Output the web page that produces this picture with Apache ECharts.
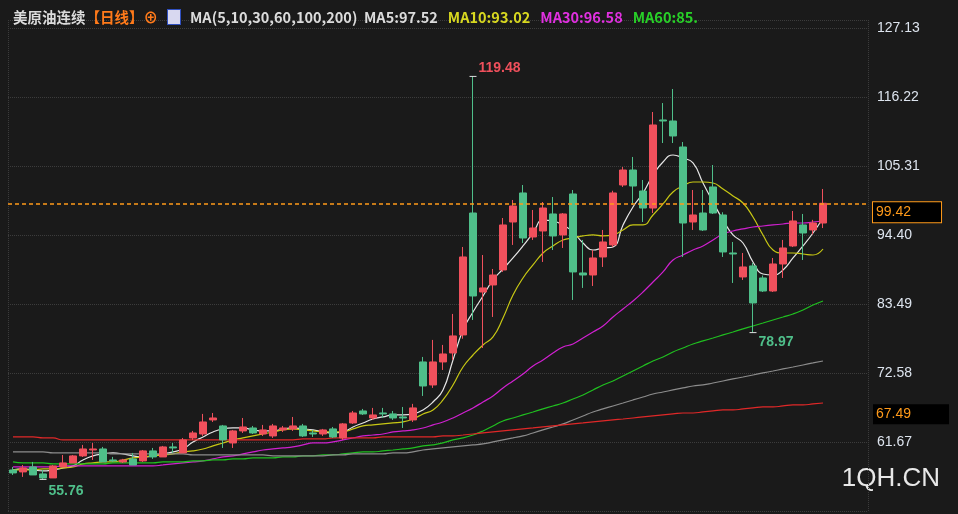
<!DOCTYPE html>
<html>
<head>
<meta charset="utf-8">
<script src="https://cdn.jsdelivr.net/npm/echarts@6/dist/echarts.min.js"></script>
<style>
html, body { margin: 0; padding: 0; background: #1a1a1a; }
#main { width: 958px; height: 514px; }
</style>
</head>
<body>
<div id="main"></div>
<script>
// [open, close, low, high]
var candles = [
    [57.25,56.78,56.46,57.73],[56.94,57.57,56.15,58.04],[57.73,56.46,56.46,58.52],[56.62,55.99,55.76,57.25],
    [55.99,57.89,55.99,58.04],[57.73,58.36,57.73,59.62],[58.36,59.47,58.36,59.62],[59.47,60.57,59.31,61.21],
    [60.41,60.57,58.83,61.52],[60.57,58.52,58.52,60.89],[58.83,58.68,58.52,59.31],[58.52,58.83,58.36,59.00],
    [58.99,58.04,58.04,59.94],[58.68,60.26,58.52,60.41],[60.26,59.31,59.00,60.73],[59.31,60.89,59.31,61.05],
    [60.89,60.73,59.94,61.52],[59.94,62.00,59.94,62.31],[62.31,63.10,62.00,63.42],[62.94,64.84,62.63,66.11],
    [65.16,65.47,64.84,66.26],[64.21,62.00,60.73,64.37],[61.52,63.42,60.73,63.58],[63.42,64.05,63.10,65.47],
    [63.89,63.10,62.94,64.21],[62.94,63.58,62.63,64.37],[62.63,64.21,62.31,64.53],[63.58,63.89,63.26,64.21],
    [63.74,64.21,63.42,65.63],[64.21,62.63,62.47,64.53],[63.10,62.94,62.47,63.58],[62.94,63.58,62.63,63.74],
    [63.74,62.47,62.31,64.05],[62.31,64.53,62.00,64.68],[64.68,66.26,64.53,66.58],[66.58,66.11,65.95,66.90],
    [65.47,65.95,65.16,67.06],[66.26,66.11,65.47,67.06],[66.11,65.47,65.16,66.58],[65.63,65.47,63.89,67.21],
    [65.16,67.06,64.84,67.70],[74.33,70.53,68.95,75.12],[70.69,74.33,70.22,77.81],[74.33,75.59,73.06,77.02],
    [75.75,78.44,74.64,81.92],[78.60,90.93,78.00,92.51],[97.88,84.76,80.97,119.48],[85.39,86.03,76.54,91.24],
    [86.50,88.08,81.44,89.03],[88.87,95.99,88.56,97.09],[96.46,98.99,92.83,99.94],[101.05,93.93,93.14,102.31],
    [94.09,95.51,93.62,98.36],[95.04,98.67,90.14,99.62],[97.73,94.25,92.03,100.41],[94.41,97.73,92.35,97.88],
    [100.89,88.56,84.13,101.52],[88.40,88.08,86.03,93.62],[88.08,90.77,86.34,92.03],[90.93,93.30,89.35,95.20],
    [92.83,101.05,92.50,101.40],[102.31,104.68,102.00,105.16],[104.68,102.15,99.15,106.74],[101.36,98.67,96.46,103.10],
    [98.67,111.80,97.88,113.85],[112.59,112.43,108.95,115.27],[112.43,110.06,108.95,117.49],[108.32,96.30,90.93,109.11],
    [96.46,97.57,95.20,101.52],[97.88,95.20,95.04,101.52],[102.00,97.88,97.73,105.47],[97.57,91.72,90.93,98.00],
    [91.56,91.40,86.82,93.30],[87.77,89.35,87.29,91.56],[89.51,83.66,78.97,89.98],[87.61,85.55,85.39,88.00],
    [85.55,89.82,85.39,90.77],[89.82,92.35,87.61,93.62],[92.67,96.62,92.50,98.20],[95.99,94.72,90.45,97.73],
    [95.20,96.30,94.50,96.80],[96.30,99.42,95.50,101.68]
];

var ma5 = [57.25,57.41,57.25,57.09,57.25,57.57,57.89,58.83,59.47,59.78,
    59.94,59.78,59.47,59.31,59.47,59.78,60.10,60.57,61.68,62.47,
    63.26,63.74,63.89,63.89,63.58,63.42,63.42,63.74,63.89,63.74,
    63.58,63.26,63.10,63.26,64.05,64.68,65.31,65.63,65.95,65.95,
    66.11,66.74,68.00,69.90,74.64,79.38,82.23,84.76,87.29,89.03,
    90.77,92.67,94.72,96.77,96.62,95.99,94.88,93.14,92.03,92.35,
    92.51,95.99,98.83,101.05,103.89,105.95,107.05,106.58,105.79,102.62,
    99.62,96.77,94.41,93.14,90.14,88.24,88.08,88.87,90.77,92.67,
    94.72,97.09];
var ma10 = [57.25,57.25,57.25,57.41,57.41,57.57,57.73,58.20,58.36,58.52,
    58.52,58.83,59.15,59.31,59.47,59.62,59.78,60.10,60.26,60.57,
    61.05,61.52,62.00,62.31,62.63,62.94,63.26,63.58,63.74,63.58,
    63.42,63.26,63.26,63.26,63.74,64.21,64.37,64.53,64.68,64.84,
    65.31,66.11,66.74,68.32,70.69,73.53,75.43,77.02,78.28,81.28,
    84.92,87.61,89.66,91.56,92.67,93.62,93.93,94.25,94.41,94.25,
    94.41,95.20,95.99,95.99,97.57,99.31,101.21,102.15,102.78,102.78,
    102.62,101.68,100.57,99.46,97.25,94.41,92.03,91.56,91.56,91.40,
    91.24,92.19];
var ma30 = [57.73,57.73,57.73,57.73,57.73,57.89,57.89,57.89,57.89,57.89,
    57.89,57.89,57.89,57.89,57.89,58.04,58.20,58.36,58.52,58.68,
    58.99,59.31,59.47,59.78,60.10,60.41,60.57,60.73,60.89,61.21,
    61.52,61.52,61.68,62.00,62.31,62.63,62.78,62.94,63.26,63.42,
    63.58,63.89,64.37,64.84,65.47,66.26,67.06,68.00,68.95,70.22,
    71.32,72.43,73.69,74.64,75.75,76.70,77.17,78.12,79.07,80.02,
    81.44,82.71,83.97,85.39,86.97,88.56,90.45,91.24,92.03,92.67,
    93.62,94.56,95.04,95.36,95.67,95.83,95.99,96.14,96.30,96.30,
    96.46,96.62];
var ma60 = [58.52,58.36,58.36,58.36,58.20,58.20,58.20,58.20,58.20,58.20,
    58.36,58.36,58.36,58.36,58.36,58.52,58.52,58.52,58.68,58.68,
    58.83,58.83,58.99,58.99,59.15,59.15,59.15,59.31,59.31,59.47,
    59.47,59.62,59.62,59.78,59.94,60.10,60.10,60.26,60.41,60.57,
    60.73,61.05,61.21,61.52,62.00,62.31,62.78,63.42,64.21,65.00,
    65.47,65.95,66.42,66.90,67.37,67.84,68.47,69.11,69.90,70.69,
    71.32,72.11,72.90,73.69,74.48,75.12,75.91,76.54,77.17,77.65,
    78.12,78.60,79.07,79.55,80.02,80.49,80.97,81.44,81.92,82.55,
    83.34,83.97];
var ma100 = [60.10,60.10,60.10,60.10,59.94,59.94,59.94,59.94,59.94,59.94,
    59.78,59.78,59.78,59.78,59.78,59.78,59.78,59.78,59.62,59.62,
    59.62,59.62,59.62,59.62,59.62,59.62,59.47,59.47,59.47,59.47,
    59.47,59.47,59.62,59.62,59.78,59.78,59.78,59.78,59.94,59.94,
    60.10,60.41,60.57,60.73,60.89,61.05,61.21,61.36,61.68,62.00,
    62.31,62.63,63.10,63.58,64.05,64.53,65.16,65.79,66.42,66.90,
    67.37,67.84,68.32,68.79,69.26,69.58,69.90,70.22,70.53,70.69,
    71.00,71.32,71.64,71.95,72.27,72.59,72.90,73.22,73.53,73.85,
    74.17,74.48];
var ma200 = [62.47,62.47,62.47,62.31,62.31,62.00,62.00,62.00,62.00,62.00,
    62.00,62.00,62.00,62.00,62.00,62.00,62.00,62.00,62.00,62.00,
    62.00,62.00,62.00,62.00,62.00,62.00,62.00,62.00,62.00,62.15,
    62.15,62.15,62.31,62.31,62.31,62.31,62.31,62.47,62.47,62.47,
    62.47,62.47,62.47,62.63,62.63,62.78,62.94,63.10,63.26,63.42,
    63.58,63.74,63.89,64.05,64.21,64.37,64.53,64.68,64.84,65.00,
    65.16,65.31,65.47,65.63,65.79,65.95,66.11,66.26,66.26,66.42,
    66.58,66.74,66.74,66.90,67.06,67.21,67.21,67.37,67.53,67.53,
    67.69,67.84];

var extremes = [
    { idx: 46, value: 119.48, color: '#f0505c', dy: -8 },
    { idx: 74, value: 78.97, color: '#4fbf8a', dy: 10 },
    { idx: 3, value: 55.76, color: '#4fbf8a', dy: 12 }
];
var yTickStart = 50.76, yTickStep = 10.91;
var lastPrice = 99.42, ma200Last = 67.49;

var categories = [];
for (var i = 0; i < 86; i++) categories.push(i < candles.length ? 'D' + i : '');

var boxLabel = {
    position: 'end', distance: 5, fontSize: 14, color: '#ff9a1a',
    fontFamily: 'Liberation Sans', backgroundColor: '#000', offset: [0, 9]
};

function lineSeries(name, data, color, mark) {
    var s = {
        name: name, type: 'line', data: data, symbol: 'none', smooth: true,
        lineStyle: { width: 1.2, color: color }, z: 3, silent: true
    };
    if (mark) {
        s.markLine = {
            symbol: 'none', silent: true,
            lineStyle: { color: mark.lineColor, type: [4, 3], width: mark.lineWidth },
            label: Object.assign({}, boxLabel, mark.label, { formatter: mark.value.toFixed(2) }),
            data: [{ yAxis: mark.value }]
        };
    }
    return s;
}

var myChart = echarts.init(document.getElementById('main'));
var option = {
    backgroundColor: '#1a1a1a',
    animation: false,
    title: {
        left: 8, top: 3,
        text: '{a|美原油连续}{b|【日线】⊕}  {i| }  {a|MA(5,10,30,60,100,200)  MA5:97.52}  {y|MA10:93.02}  {m|MA30:96.58}  {g|MA60:85.}',
        textStyle: {
            rich: {
                a: { color: '#dcdcdc', fontSize: 14.5, fontFamily: 'Noto Sans CJK SC' },
                b: { color: '#ff7a1a', fontSize: 14.5, fontFamily: 'Noto Sans CJK SC' },
                i: { width: 12, height: 14, backgroundColor: '#d8d8f0', borderColor: '#3050c0', borderWidth: 1 },
                y: { color: '#d8d820', fontSize: 14.5, fontFamily: 'Noto Sans CJK SC' },
                m: { color: '#e030e0', fontSize: 14.5, fontFamily: 'Noto Sans CJK SC' },
                g: { color: '#28d028', fontSize: 14.5, fontFamily: 'Noto Sans CJK SC' }
            }
        }
    },
    graphic: [{
        type: 'text', right: 18, bottom: 22,
        style: { text: '1QH.CN', fill: '#e8e8e8', font: '26px "Liberation Sans"' }
    }],
    grid: { left: 8, right: 90, top: 20, bottom: 3 },
    xAxis: {
        type: 'category', data: categories, boundaryGap: true,
        axisLine: { show: false }, axisTick: { show: false }, axisLabel: { show: false },
        splitLine: {
            show: true,
            interval: function (idx) { return idx === 41; },
            lineStyle: { color: '#3c3c3c', type: 'dotted' }
        }
    },
    yAxis: {
        type: 'value', position: 'right', scale: true,
        min: yTickStart, max: 128.4, interval: yTickStep,
        axisLine: { show: false }, axisTick: { show: false },
        splitLine: { lineStyle: { color: '#3c3c3c', type: 'dotted' } },
        axisLabel: {
            showMinLabel: false, showMaxLabel: false, margin: 9,
            color: '#dde4ee', fontSize: 14, fontFamily: 'Liberation Sans',
            formatter: function (v) { return v.toFixed(2); }
        }
    },
    series: [
        {
            name: 'K', type: 'candlestick', data: candles, barWidth: 7, z: 4,
            itemStyle: { color: '#f0505c', color0: '#4fbf8a', borderColor: '#f0505c', borderColor0: '#4fbf8a', borderWidth: 1 },
            markPoint: {
                symbol: 'rect', symbolSize: [7, 1],
                itemStyle: { color: '#e0e0e0' },
                data: extremes.map(function (e) {
                    return {
                        coord: [e.idx, e.value], value: e.value,
                        label: {
                            show: true, position: 'right', offset: [0, e.dy], distance: 2,
                            color: e.color, fontSize: 14, fontWeight: 'bold', fontFamily: 'Liberation Sans',
                            formatter: e.value.toFixed(2)
                        }
                    };
                })
            }
        },
        lineSeries('MA5', ma5, '#e6e6e6', {
            value: lastPrice, lineColor: '#ff9a1a', lineWidth: 1.5,
            label: { borderColor: '#ff9a1a', borderWidth: 1, padding: [3, 30, 3, 3] }
        }),
        lineSeries('MA10', ma10, '#c8c814'),
        lineSeries('MA30', ma30, '#d020d0'),
        lineSeries('MA60', ma60, '#20c020'),
        lineSeries('MA100', ma100, '#8c8c8c'),
        lineSeries('MA200', ma200, '#e02828', {
            value: ma200Last, lineColor: 'rgba(0,0,0,0)', lineWidth: 0,
            label: { padding: [3, 38, 3, 3] }
        })
    ]
};
myChart.setOption(option);
</script>
</body>
</html>
